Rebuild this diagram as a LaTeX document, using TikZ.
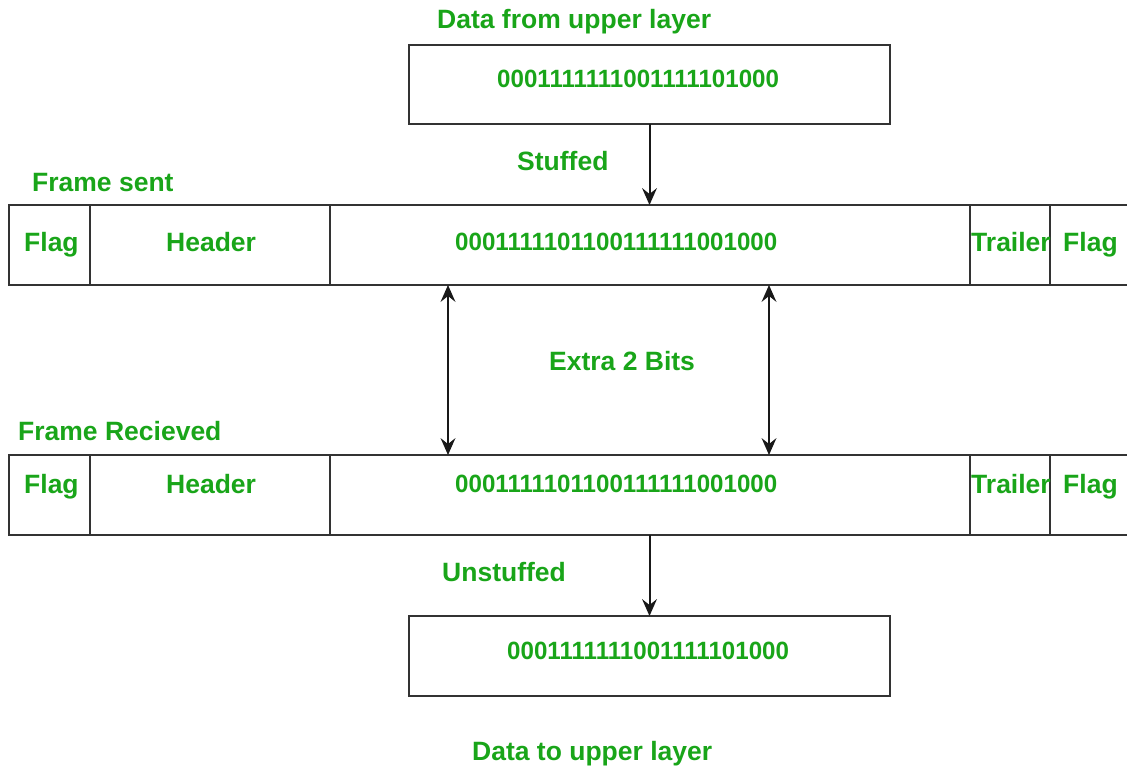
\documentclass[tikz,border=0pt]{standalone}
\usepackage{fontspec}
\setmainfont{Liberation Sans}
\newfontfamily\bitfont{Liberation Sans}[FakeStretch=0.965]
\usetikzlibrary{positioning,arrows.meta}
\definecolor{lblgreen}{RGB}{25,165,25}

\begin{document}
\begin{tikzpicture}[x=1pt,y=-1pt,
  cell/.style={draw=black!80,line width=1.5pt,minimum height=80pt,outer sep=0pt,inner sep=0pt,anchor=north west},
  lbl/.style={text=lblgreen,font=\fontsize{26.5}{30}\selectfont\bfseries,inner sep=0pt,anchor=base west},
  bits/.style={lbl,font=\fontsize{25}{30}\selectfont\bitfont\bfseries},
  tip/.tip={Stealth[length=17pt,width=15pt,inset=6pt,line width=0pt]},
  link/.style={draw=black!90,line width=2pt}]
\clip (0,0) rectangle (1127,768);

% data from upper layer
\node[cell,minimum width=481pt,minimum height=79pt] (top) at (409,45) {};
\node[lbl] (topl) at (437,29) {Data from upper layer};
\node[bits] (topbits) at (497,88) {0001111111001111101000};

% frame sent
\node[lbl] (sentl) at (32,191) {Frame sent};
\node[cell,minimum width=81pt] (s1) at (9,205) {};
\node[cell,minimum width=240pt,right=0pt of s1] (s2) {};
\node[cell,minimum width=640pt,right=0pt of s2] (s3) {};
\node[cell,minimum width=80pt,right=0pt of s3] (s4) {};
\node[cell,minimum width=100pt,right=0pt of s4] (s5) {};
\node[lbl] (s1l) at (24,251) {Flag};
\node[lbl] (s2l) at (166,251) {Header};
\node[bits] (s3l) at (455,250) {0001111101100111111001000};
\node[lbl] (s4l) at (971,251) {Trailer};
\node[lbl] (s5l) at (1063,251) {Flag};

% frame received
\node[lbl] (recl) at (18,440) {Frame Recieved};
\node[cell,minimum width=81pt] (r1) at (9,455) {};
\node[cell,minimum width=240pt,right=0pt of r1] (r2) {};
\node[cell,minimum width=640pt,right=0pt of r2] (r3) {};
\node[cell,minimum width=80pt,right=0pt of r3] (r4) {};
\node[cell,minimum width=100pt,right=0pt of r4] (r5) {};
\node[lbl] (r1l) at (24,493) {Flag};
\node[lbl] (r2l) at (166,493) {Header};
\node[bits] (r3l) at (455,492) {0001111101100111111001000};
\node[lbl] (r4l) at (971,493) {Trailer};
\node[lbl] (r5l) at (1063,493) {Flag};

% data to upper layer
\node[cell,minimum width=481pt] (bot) at (409,616) {};
\node[bits] (botbits) at (507,659) {0001111111001111101000};
\node[lbl] (botl) at (472,760) {Data to upper layer};

\node[lbl] (stuf) at (517,170) {Stuffed};
\node[lbl] (extra) at (549,370) {Extra 2 Bits};
\node[lbl] (unstuf) at (442,581) {Unstuffed};

\path[link,-tip] (top.south) -- (top.south |- s3.north);
\path[link,tip-tip] ([xshift=118pt]s3.south west) -- ([xshift=118pt]r3.north west);
\path[link,tip-tip] ([xshift=439pt]s3.south west) -- ([xshift=439pt]r3.north west);
\path[link,-tip] (bot.north |- r3.south) -- (bot.north);
\end{tikzpicture}
\end{document}
